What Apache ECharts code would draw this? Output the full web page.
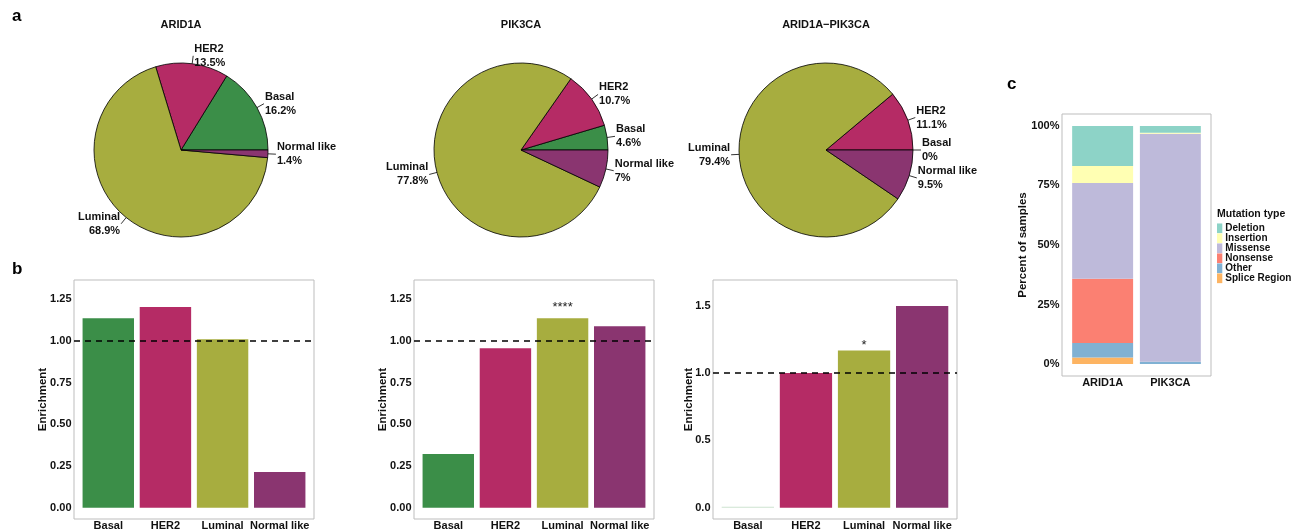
<!DOCTYPE html>
<html>
<head>
<meta charset="utf-8">
<script src="https://cdn.jsdelivr.net/npm/echarts@6/dist/echarts.min.js"></script>
<style>
  html, body { margin: 0; padding: 0; background: #ffffff; }
  #chart { width: 1304px; height: 532px; }
</style>
</head>
<body>
<div id="chart"></div>
<script>
// ---- data ---------------------------------------------------------------
const subtypes = ['Basal', 'HER2', 'Luminal', 'Normal like'];
const subtypeColors = ['#3b8e48', '#b52b65', '#a7ad3f', '#8a3570'];

const pieTitles = ['ARID1A', 'PIK3CA', 'ARID1A\u2212PIK3CA'];
const pieARID1A = [16.2, 13.5, 68.9, 1.4];
const piePIK3CA = [4.6, 10.7, 77.8, 7];
const pieBoth = [0, 11.1, 79.4, 9.5];

const enrichARID1A = [1.137, 1.204, 1.011, 0.214];
const enrichPIK3CA = [0.322, 0.957, 1.137, 1.089];
const enrichBoth = [0, 1.0, 1.166, 1.497];
const signifARID1A = ['', '', '', ''];
const signifPIK3CA = ['', '', '****', ''];
const signifBoth = ['', '', '*', ''];
const enrichRef = 1;
const enrichTicksA = [0, 0.25, 0.5, 0.75, 1, 1.25];
const enrichTicksB = [0, 0.5, 1, 1.5];
const enrichLimitsA = [-0.068, 1.366];
const enrichLimitsB = [-0.084, 1.69];

const mutGenes = ['ARID1A', 'PIK3CA'];
const mutTypes = ['Deletion', 'Insertion', 'Missense', 'Nonsense', 'Other', 'Splice Region'];
const mutColors = ['#8dd3c7', '#ffffb3', '#bebada', '#fb8072', '#80b1d3', '#fdb462'];
const deletionPct = [16.8, 2.9];
const insertionPct = [7.2, 0.4];
const missensePct = [40.2, 95.7];
const nonsensePct = [26.9, 0];
const otherPct = [6.1, 1.0];
const splicePct = [2.8, 0];
const pctTicks = [0, 25, 50, 75, 100];
const pctLimits = [-5, 105];

// ---- layout helpers -----------------------------------------------------
const FONT = '"Liberation Sans", Arial, Helvetica, sans-serif';
const INK = '#111111';
const BORDER = '#bdbdbd';

const chart = echarts.init(document.getElementById('chart'), null, { renderer: 'canvas' });

const grids = [], xAxes = [], yAxes = [], series = [];

// A framed panel: an outer grid holds the frame, y axis and reference line;
// an inner grid holds the categories, inset like a discrete ggplot scale.
function panel(box, cats, limits, ticks, fmt, yName, nameGap) {
  const n = cats.length;
  const band = box.width / (n - 1 + 1.2);
  const outer = grids.length;
  grids.push({ left: box.left, top: box.top, width: box.width, height: box.height,
               show: true, borderColor: BORDER, borderWidth: 1, backgroundColor: '#fff' });
  grids.push({ left: box.left + 0.1 * band, top: box.top, width: n * band, height: box.height });
  xAxes.push({ gridIndex: outer, type: 'value', min: 0, max: 1, show: false });
  yAxes.push({
    gridIndex: outer, type: 'value', min: limits[0], max: limits[1],
    name: yName, nameLocation: 'middle', nameGap: nameGap, nameRotate: 90, nameMoveOverlap: false,
    nameTextStyle: { fontFamily: FONT, fontWeight: 'bold', fontSize: 11.5, color: INK },
    axisLine: { show: false }, axisTick: { show: false }, splitLine: { show: false },
    axisLabel: { customValues: ticks, formatter: fmt, margin: 2.5,
                 fontFamily: FONT, fontWeight: 'bold', fontSize: 11, color: INK }
  });
  xAxes.push({
    gridIndex: outer + 1, type: 'category', data: cats,
    axisLine: { show: false }, axisTick: { show: false }, splitLine: { show: false },
    axisLabel: { margin: 1.5, interval: 0, fontFamily: FONT, fontWeight: 'bold', fontSize: 11, color: INK }
  });
  yAxes.push({ gridIndex: outer + 1, type: 'value', min: limits[0], max: limits[1], show: false });
  return { outer: outer, inner: outer + 1 };
}

// ---- a: pies ------------------------------------------------------------
const pieCenters = [[181, 150], [521, 150], [826, 150]];
const pieValues = [pieARID1A, piePIK3CA, pieBoth];
pieValues.forEach((vals, k) => {
  series.push({
    type: 'pie', center: pieCenters[k], radius: 87,
    startAngle: 0, clockwise: false, avoidLabelOverlap: false,
    silent: true, animation: false,
    itemStyle: { borderColor: '#000', borderWidth: 0.8 },
    label: {
      show: true, position: 'outside', distanceToLabelLine: 1,
      formatter: p => p.name + '\n' + p.value + '%',
      fontFamily: FONT, fontWeight: 'bold', fontSize: 11, lineHeight: 14, color: INK
    },
    labelLine: { show: true, length: 8, length2: 0, smooth: false,
                 lineStyle: { color: '#000', width: 0.8 } },
    emphasis: { disabled: true },
    data: subtypes.map((s, i) => ({ name: s, value: vals[i], itemStyle: { color: subtypeColors[i] } }))
  });
});

// ---- b: enrichment bars -------------------------------------------------
const enrichSets = [
  { vals: enrichARID1A, sig: signifARID1A, left: 74,  width: 240, limits: enrichLimitsA, ticks: enrichTicksA, digits: 2, sigGap: 4,  nameGap: 25 },
  { vals: enrichPIK3CA, sig: signifPIK3CA, left: 414, width: 240, limits: enrichLimitsA, ticks: enrichTicksA, digits: 2, sigGap: 4,  nameGap: 25 },
  { vals: enrichBoth,   sig: signifBoth,   left: 713, width: 244, limits: enrichLimitsB, ticks: enrichTicksB, digits: 1, sigGap: -1, nameGap: 18 }
];
enrichSets.forEach(set => {
  const g = panel({ left: set.left, top: 280, width: set.width, height: 239 }, subtypes,
                  set.limits, set.ticks, v => v.toFixed(set.digits), 'Enrichment', set.nameGap);
  series.push({
    type: 'bar', xAxisIndex: g.inner, yAxisIndex: g.inner, barWidth: '90%', barMinHeight: 1,
    silent: true, animation: false,
    data: set.vals.map((v, i) => ({
      value: v,
      itemStyle: { color: subtypeColors[i], opacity: v === 0 ? 0.25 : 1 }
    })),
    label: {
      show: true, position: 'top', distance: set.sigGap,
      formatter: p => set.sig[p.dataIndex],
      fontFamily: FONT, fontSize: 13, color: '#222'
    }
  });
  series.push({
    type: 'line', xAxisIndex: g.outer, yAxisIndex: g.outer, z: 5,
    silent: true, animation: false, symbol: 'none',
    data: [[0, enrichRef], [1, enrichRef]],
    lineStyle: { color: '#000', width: 1.5, type: [6, 5] }
  });
});

// ---- c: mutation types --------------------------------------------------
const gc = panel({ left: 1062, top: 114, width: 149, height: 262 }, mutGenes,
                 pctLimits, pctTicks, v => v + '%', 'Percent of samples', 33);
const mutValues = [deletionPct, insertionPct, missensePct, nonsensePct, otherPct, splicePct];
// stacked from the bottom: last type first
for (let t = mutTypes.length - 1; t >= 0; t--) {
  series.push({
    type: 'bar', name: mutTypes[t], stack: 'mut', barWidth: '90%',
    xAxisIndex: gc.inner, yAxisIndex: gc.inner, silent: true, animation: false,
    itemStyle: { color: mutColors[t] },
    data: mutValues[t]
  });
}

const titleStyle = { fontFamily: FONT, fontWeight: 'bold', fontSize: 11, color: INK };
const letterStyle = { fontFamily: FONT, fontWeight: 'bold', fontSize: 17, color: '#000' };

chart.setOption({
  animation: false,
  backgroundColor: '#ffffff',
  title: [
    { text: 'a', left: 12, top: 7.5, padding: 0, textStyle: letterStyle },
    { text: 'b', left: 12, top: 261, padding: 0, textStyle: letterStyle },
    { text: 'c', left: 1007, top: 75.5, padding: 0, textStyle: letterStyle },
    { text: pieTitles[0], left: pieCenters[0][0], textAlign: 'center', top: 19, padding: 0, textStyle: titleStyle },
    { text: pieTitles[1], left: pieCenters[1][0], textAlign: 'center', top: 19, padding: 0, textStyle: titleStyle },
    { text: pieTitles[2], left: pieCenters[2][0], textAlign: 'center', top: 19, padding: 0, textStyle: titleStyle },
    { text: 'Mutation type', left: 1217, top: 208.5, padding: 0,
      textStyle: { fontFamily: FONT, fontWeight: 'bold', fontSize: 10.5, color: INK } }
  ],
  legend: {
    orient: 'vertical', left: 1217, top: 223.3, padding: 0,
    itemWidth: 5.3, itemHeight: 9.7, itemGap: 0, icon: 'rect',
    selectedMode: false, data: mutTypes,
    textStyle: { fontFamily: FONT, fontWeight: 'bold', fontSize: 10, lineHeight: 9.7, color: INK,
                 padding: [0, 0, 0, -2] }
  },
  grid: grids,
  xAxis: xAxes,
  yAxis: yAxes,
  series: series
});
</script>
</body>
</html>
